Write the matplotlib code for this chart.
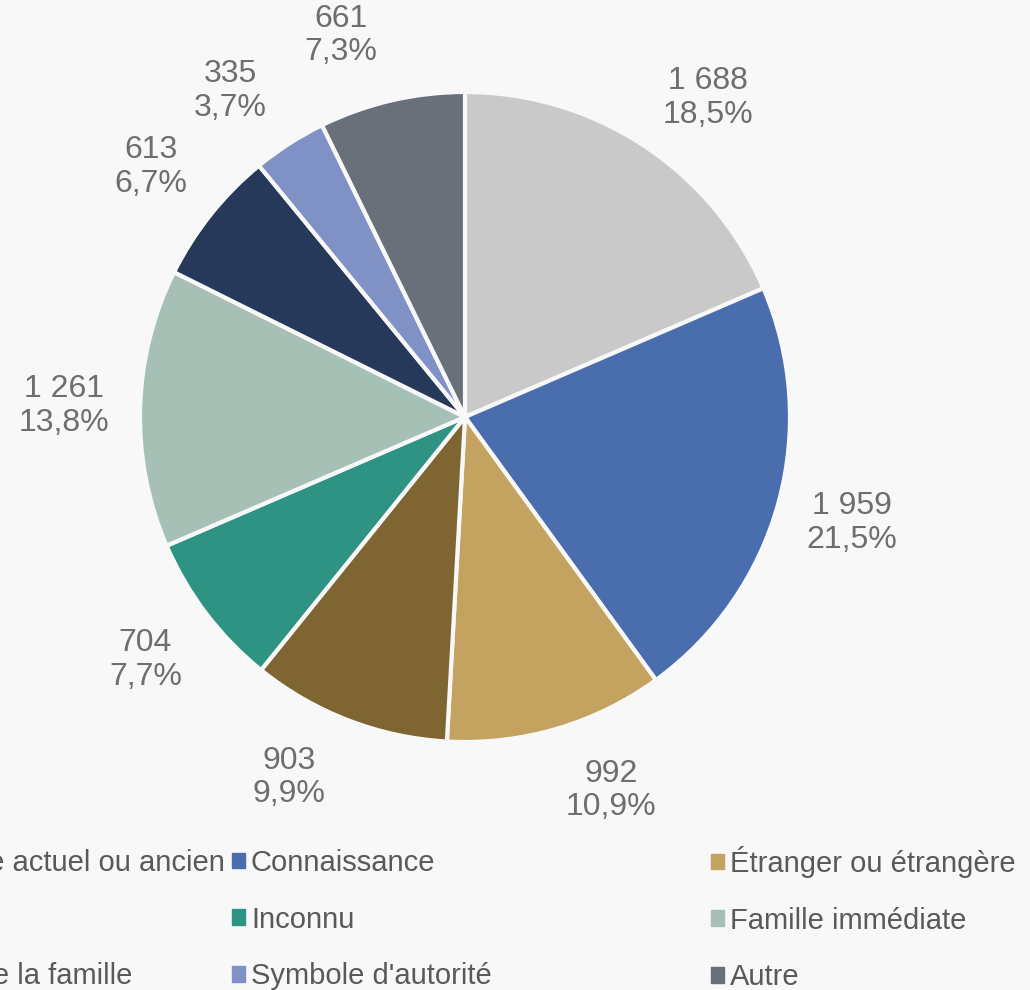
import matplotlib

matplotlib.use("Agg")
import matplotlib.pyplot as plt
import numpy as np
from matplotlib.patches import Patch

# relationship categories, in wedge order (clockwise from 12 o'clock)
categories = [
    "Partenaire intime actuel ou ancien",
    "Connaissance",
    "Étranger ou étrangère",
    "Ami ou amie",
    "Inconnu",
    "Famille immédiate",
    "Autre membre de la famille",
    "Symbole d'autorité",
    "Autre",
]
counts = [1688, 1959, 992, 903, 704, 1261, 613, 335, 661]
colors = ["#c9c9c9", "#4a6dad", "#c4a360", "#7f6531", "#2f9384",
          "#a7c0b6", "#27395b", "#8091c6", "#697079"]

total = sum(counts)
BG = "#f8f8f8"
CENTER = (465, 573)
RADIUS = 325

plt.rcParams["font.family"] = ["Liberation Sans", "DejaVu Sans"]


def fmt(p):
    n = round(p * total / 100)
    return f"{n:,}".replace(",", " ") + "\n" + f"{p:.1f}".replace(".", ",") + "%"


fig = plt.figure(figsize=(10.3, 9.9), dpi=100, facecolor=BG)
ax = fig.add_axes([0, 0, 1, 1])
ax.set_facecolor(BG)

wedges, texts, autotexts = ax.pie(
    counts, colors=colors, startangle=90, counterclock=False,
    center=CENTER, radius=RADIUS,
    autopct=fmt, pctdistance=1.235,
    wedgeprops=dict(edgecolor=BG, linewidth=3),
    textprops=dict(color="#6e6e6e", fontsize=23),
)

# spread crowded labels a little, as the spreadsheet did (degrees)
nudge = [-4, 0, 5, -5, 0, 0, 0, 3, 5]
for w, t, d in zip(wedges, autotexts, nudge):
    ang = np.deg2rad((w.theta1 + w.theta2) / 2 + d)
    dist = RADIUS * 1.235
    t.set_position((CENTER[0] + dist * np.cos(ang), CENTER[1] + dist * np.sin(ang)))
    t.set_linespacing(1.15)

ax.set_xlim(0, 1030)
ax.set_ylim(0, 990)
ax.axis("off")

# legend laid out row-wise over three columns, like the original
col_pos = [(225, 849, "upper right"), (232, 849, "upper left"), (711, 846, "upper left")]
for k, (x, y, loc) in enumerate(col_pos):
    idx = range(k, len(categories), 3)
    fig.legend(
        [Patch(color=colors[i]) for i in idx], [categories[i] for i in idx],
        loc=loc, bbox_to_anchor=(x / 1030, 1 - y / 990),
        frameon=False, fontsize=21, labelcolor="#595959",
        borderpad=0, borderaxespad=0, handlelength=0.45, handleheight=0.45,
        handletextpad=0.2, labelspacing=0.98,
    )

fig.savefig("out.png", dpi=100, facecolor=BG)
